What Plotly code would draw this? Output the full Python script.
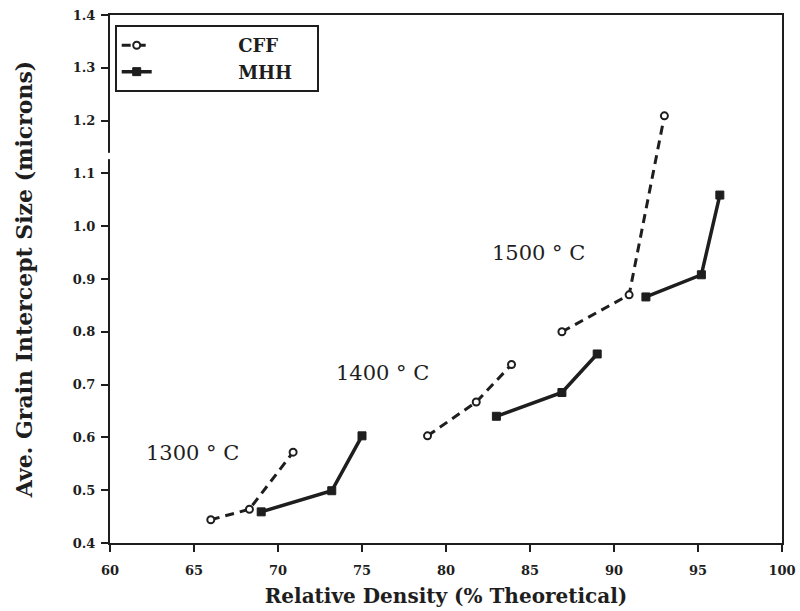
import plotly.graph_objects as go

# Data
series_names = ["CFF", "MHH"]
x_cff = [66.0, 68.3, 70.9, None, 78.9, 81.8, 83.9, None, 86.9, 90.9, 93.0]
y_cff = [0.444, 0.464, 0.572, None, 0.603, 0.667, 0.738, None, 0.800, 0.870, 1.209]
x_mhh = [69.0, 73.2, 75.0, None, 83.0, 86.9, 89.0, None, 91.9, 95.2, 96.3]
y_mhh = [0.459, 0.499, 0.603, None, 0.640, 0.685, 0.758, None, 0.866, 0.908, 1.059]
temp_labels = ["1300 ° C", "1400 ° C", "1500 ° C"]
x_ticks = [60, 65, 70, 75, 80, 85, 90, 95, 100]
y_ticks = [0.4, 0.5, 0.6, 0.7, 0.8, 0.9, 1.0, 1.1, 1.2, 1.3, 1.4]

INK = "#1e1e1e"
SERIF = "DejaVu Serif"
PAD_L = "&nbsp;" * 13
PAD_R = "&nbsp;" * 3

fig = go.Figure()
fig.add_trace(go.Scatter(
    x=x_cff, y=y_cff, name=PAD_L + series_names[0] + PAD_R, mode="lines+markers",
    connectgaps=False,
    line=dict(color=INK, width=3, dash="9px,6px"),
    marker=dict(symbol="circle", size=7, color="white", line=dict(color=INK, width=2)),
))
fig.add_trace(go.Scatter(
    x=x_mhh, y=y_mhh, name=PAD_L + series_names[1] + PAD_R, mode="lines+markers",
    connectgaps=False,
    line=dict(color=INK, width=3.5),
    marker=dict(symbol="square", size=8, color=INK, line=dict(color=INK, width=1)),
))

label_pos = [(64.9, 0.570), (76.2, 0.722), (85.5, 0.949)]
for txt, (lx, ly) in zip(temp_labels, label_pos):
    fig.add_annotation(x=lx, y=ly, text=txt, showarrow=False,
                       font=dict(family=SERIF, size=21, color=INK))

# small scan gap in the left axis line
fig.add_shape(type="rect", xref="paper", yref="y", x0=-0.006, x1=0.006,
              y0=1.127, y1=1.139, fillcolor="white", line=dict(width=0), layer="above")

axis_common = dict(
    showgrid=False, zeroline=False, showline=True, mirror=True,
    linecolor=INK, linewidth=2, ticks="outside", tickcolor=INK,
    tickwidth=2, ticklen=7,
    tickfont=dict(family=SERIF, size=13, color=INK, weight="bold"),
)

fig.update_xaxes(
    range=[60, 100], tickvals=x_ticks, ticktext=[str(v) for v in x_ticks],
    ticklabelstandoff=7,
    title=dict(text="Relative Density (% Theoretical)", standoff=12,
               font=dict(family=SERIF, size=20, color=INK, weight="bold")),
    automargin=False, **axis_common,
)
fig.update_yaxes(
    range=[0.4, 1.4], tickvals=y_ticks, ticktext=[f"{v:.1f}" for v in y_ticks],
    ticklabelstandoff=3,
    title=dict(text="Ave. Grain Intercept Size (microns)", standoff=34,
               font=dict(family=SERIF, size=22, color=INK, weight="bold")),
    automargin=False, **axis_common,
)

fig.update_layout(
    width=800, height=611,
    margin=dict(l=110, r=18, t=15, b=68),
    paper_bgcolor="white", plot_bgcolor="white",
    showlegend=True,
    legend=dict(
        x=0.007, y=0.981, xanchor="left", yanchor="top",
        bgcolor="white", bordercolor=INK, borderwidth=2,
        font=dict(family=SERIF, size=18, color=INK, weight="bold"),
        tracegroupgap=0,
    ),
)

fig.write_html("out.html")
